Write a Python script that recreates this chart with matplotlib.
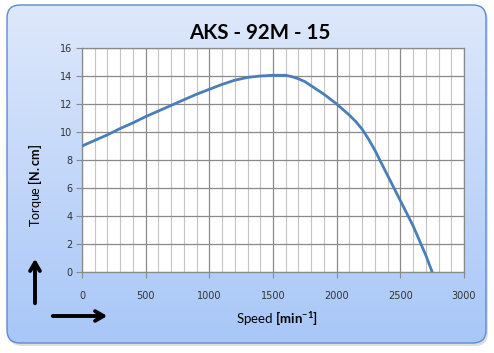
import numpy as np
import matplotlib
matplotlib.use("Agg")
from matplotlib import pyplot as plt
from matplotlib.patches import FancyBboxPatch
from matplotlib.ticker import MultipleLocator

speed = [0, 100, 200, 300, 400, 500, 600, 700, 800, 900, 1000, 1100, 1200, 1300,
         1400, 1500, 1600, 1650, 1700, 1750, 1800, 1900, 2000, 2100, 2150, 2200,
         2250, 2300, 2400, 2500, 2600, 2700, 2750]
torque = [9.0, 9.4, 9.8, 10.25, 10.65, 11.1, 11.5, 11.9, 12.3, 12.7, 13.05, 13.4,
          13.7, 13.9, 14.0, 14.05, 14.05, 13.95, 13.8, 13.6, 13.3, 12.7, 12.0, 11.2,
          10.75, 10.2, 9.5, 8.7, 6.9, 5.1, 3.3, 1.2, 0.0]
title = "AKS - 92M - 15"

plt.rcParams['mathtext.fontset'] = 'custom'
plt.rcParams['mathtext.rm'] = 'Lato'
plt.rcParams['mathtext.bf'] = 'Lato:bold'

W, H = 494, 353
fig = plt.figure(figsize=(W / 100, H / 100), dpi=100)
fig.patch.set_facecolor('white')

# rounded gradient background with a soft shadow
bg = fig.add_axes([0, 0, 1, 1])
bg.set_xlim(0, W)
bg.set_ylim(H, 0)
bg.axis('off')
shadow = FancyBboxPatch((9, 7), 479, 339, boxstyle="round,pad=0,rounding_size=13",
                        facecolor='#c8c8c8', edgecolor='none', alpha=0.6, zorder=0)
bg.add_patch(shadow)
box = FancyBboxPatch((7, 5), 479, 338, boxstyle="round,pad=0,rounding_size=13",
                     facecolor='none', edgecolor='#5b8bd0', lw=1.0, zorder=3)
bg.add_patch(box)
grad = np.linspace(0, 1, 256).reshape(-1, 1)
top = np.array([0.87, 0.91, 0.985])
bot = np.array([0.66, 0.78, 0.97])
img = top + grad[..., None] * (bot - top)
im = bg.imshow(img, extent=(7, 486, 343, 5), aspect='auto', zorder=1)
im.set_clip_path(box)

# arrows
bg.annotate('', xy=(35, 256), xytext=(35, 306),
            arrowprops=dict(arrowstyle='->,head_length=0.6,head_width=0.35', lw=2.8, color='black'))
bg.annotate('', xy=(110, 316), xytext=(50, 316),
            arrowprops=dict(arrowstyle='->,head_length=0.6,head_width=0.35', lw=2.8, color='black'))

bg.text(260, 33, title, fontfamily='Lato', fontweight='bold', fontsize=14.8,
        ha='center', va='center', zorder=4)

ax = fig.add_axes([82 / W, 1 - 272 / H, (464 - 82) / W, (272 - 48) / H], zorder=2)
ax.set_facecolor('white')
ax.plot(speed, torque, color='#4a7ebb', lw=2.0, solid_capstyle='round', zorder=3)
ax.set_xlim(0, 3000)
ax.set_ylim(0, 16)
ax.xaxis.set_major_locator(MultipleLocator(500))
ax.xaxis.set_minor_locator(MultipleLocator(100))
ax.yaxis.set_major_locator(MultipleLocator(2))
ax.grid(which='major', color='#8a8a8a', lw=0.9)
ax.grid(which='minor', axis='x', color='#c4c4c4', lw=0.8)
ax.set_axisbelow(True)
for s in ax.spines.values():
    s.set_color('#8a8a8a')
    s.set_linewidth(0.9)
ax.tick_params(which='major', length=4, color='#8a8a8a', labelsize=7,
               labelcolor='#333333', pad=3)
ax.tick_params(which='minor', length=0)
ax.tick_params(axis='x', pad=10)

ax.set_xlabel(r'Speed $\mathbf{[min^{-1}]}$', fontfamily='Lato', fontsize=9.5)
ax.set_ylabel(r'Torque $\mathbf{[N.cm]}$', fontfamily='Lato', fontsize=9)
ax.xaxis.set_label_coords((277 - 82) / 382, -(318 - 272) / 224)
ax.yaxis.set_label_coords((35 - 82) / 382, (272 - 185) / 224)
ax.xaxis.label.set_va('center')
ax.yaxis.label.set_va('center')

fig.savefig('out.png', dpi=100)
